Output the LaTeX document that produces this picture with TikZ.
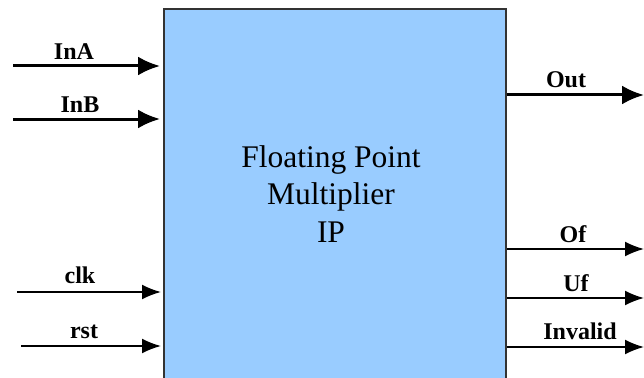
\documentclass[tikz,border=0pt]{standalone}
\usepackage{fontspec}
\setmainfont{Liberation Serif}
\usetikzlibrary{arrows.meta,calc}
\definecolor{ipblue}{HTML}{99CCFF}
\definecolor{ipedge}{HTML}{333333}
\begin{document}
\begin{tikzpicture}[x=1pt,y=-1pt,
  ipbox/.style={draw=ipedge,line width=2pt,fill=ipblue,inner sep=0pt,minimum width=342pt,minimum height=400pt,anchor=north west},
  bigarrow/.style={line width=3pt,-{Latex[length=22pt,width=19pt]}},
  smallarrow/.style={line width=1.8pt,-{Latex[length=19pt,width=15pt]}},
  lbl/.style={font=\fontsize{24}{26}\selectfont\bfseries,anchor=base,inner sep=0pt},
  title/.style={font=\fontsize{31.5}{37.5}\selectfont,align=center,inner sep=0pt}
]
\useasboundingbox (0,0) rectangle (644,377);
\begin{scope}
\clip (0,0) rectangle (644,377);
\node[ipbox] (ip) at (163,8) {};
\end{scope}
\node[title] (name) at (331,194) {Floating Point\\Multiplier\\IP};
% inputs
\coordinate (ina) at (13,66);
\coordinate (inb) at (13,119);
\coordinate (clk) at (17,292);
\coordinate (rst) at (21,346);
\draw[bigarrow,shorten >=3pt] (ina) -- (ina -| ip.west);
\draw[bigarrow,shorten >=3pt] (inb) -- (inb -| ip.west);
\draw[smallarrow,shorten >=2pt] (clk) -- (clk -| ip.west);
\draw[smallarrow,shorten >=2pt] (rst) -- (rst -| ip.west);
% outputs
\coordinate (out) at (644,95);
\coordinate (of) at (644,249);
\coordinate (uf) at (644,298);
\coordinate (inv) at (644,347);
\draw[bigarrow] (out -| ip.east) -- (out);
\draw[smallarrow] (of -| ip.east) -- (of);
\draw[smallarrow] (uf -| ip.east) -- (uf);
\draw[smallarrow] (inv -| ip.east) -- (inv);
% labels
\node[lbl] (tina) at (74,60) {InA};
\node[lbl] (tinb) at (80,112) {InB};
\node[lbl] (tclk) at (80,283) {clk};
\node[lbl] (trst) at (84,338) {rst};
\node[lbl] (tout) at (566,88) {Out};
\node[lbl] (tof) at (573,242) {Of};
\node[lbl] (tuf) at (576,291) {Uf};
\node[lbl] (tinv) at (580,339) {Invalid};
\end{tikzpicture}
\end{document}
